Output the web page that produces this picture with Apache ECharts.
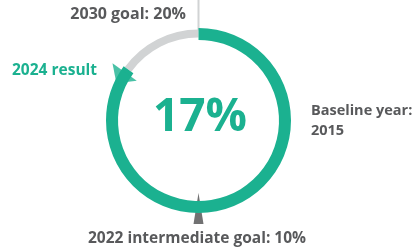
<!DOCTYPE html>
<html>
<head>
<meta charset="utf-8">
<script src="https://cdn.jsdelivr.net/npm/echarts@6/dist/echarts.min.js"></script>
<style>
    html, body { margin: 0; padding: 0; background: #fff; }
    #chart { width: 417px; height: 251px; }
</style>
</head>
<body>
<div id="chart"></div>
<script>
// 数据
const goalMax = 20;           // 2030 goal
const resultValue = 17;       // 2024 result
const midGoalValue = 10;      // 2022 intermediate goal
const baselineYear = 2015;
const labels = ['2030 goal: 20%', '2024 result', '2022 intermediate goal: 10%', 'Baseline year:'];
const centerText = resultValue + '%';

const green = '#1bb190';
const grey = '#d1d3d4';
const darkText = '#58595b';
const fontFamily = '"Open Sans", Lato, sans-serif';

const dom = document.getElementById('chart');
const myChart = echarts.init(dom);
const center = [198.5, 120.5];

const option = {
    backgroundColor: '#fff',
    animation: false,
    polar: {
        center: center,
        radius: 130
    },
    angleAxis: {
        type: 'value',
        min: 0,
        max: goalMax,
        startAngle: 90,
        clockwise: true,
        show: false
    },
    radiusAxis: {
        type: 'value',
        min: 0,
        max: 130,
        show: false
    },
    series: [
        {
            // 灰色剩余部分
            type: 'pie',
            silent: true,
            center: center,
            radius: [83, 91],
            startAngle: 90,
            clockwise: true,
            label: { show: false },
            labelLine: { show: false },
            z: 2,
            data: [
                { value: resultValue, itemStyle: { color: 'rgba(0,0,0,0)' } },
                { value: goalMax - resultValue, itemStyle: { color: grey } }
            ]
        },
        {
            // 绿色进度
            type: 'pie',
            silent: true,
            center: center,
            radius: [80.5, 92.5],
            startAngle: 90,
            clockwise: true,
            label: { show: false },
            labelLine: { show: false },
            z: 3,
            data: [
                { value: resultValue, itemStyle: { color: green } },
                { value: goalMax - resultValue, itemStyle: { color: 'rgba(0,0,0,0)' } }
            ]
        },
        {
            // 2030 目标竖线
            type: 'line',
            coordinateSystem: 'polar',
            silent: true,
            symbol: 'none',
            clip: false,
            lineStyle: { color: grey, width: 2 },
            z: 2,
            data: [[90, goalMax], [125, goalMax]]
        },
        {
            // 2022 中期目标指针
            type: 'scatter',
            coordinateSystem: 'polar',
            silent: true,
            symbol: 'triangle',
            symbolSize: [10, 31],
            itemStyle: { color: '#4d4d4f' },
            z: 1,
            data: [[88, midGoalValue]]
        },
        {
            // 2024 结果箭头
            type: 'scatter',
            coordinateSystem: 'polar',
            silent: true,
            symbol: 'triangle',
            symbolSize: [30, 14],
            symbolRotate: 144,
            itemStyle: { color: green },
            z: 4,
            data: [[89, resultValue - 0.4]]
        }
    ],
    graphic: [
        {
            type: 'text', x: 200, y: 118,
            style: { text: centerText, fill: green, font: 'bold 46px ' + fontFamily, textAlign: 'center', textVerticalAlign: 'middle' }
        },
        {
            type: 'text', x: 186, y: 14,
            style: { text: labels[0], fill: darkText, font: 'bold 16px ' + fontFamily, textAlign: 'right', textVerticalAlign: 'middle' }
        },
        {
            type: 'text', x: 12, y: 70.5,
            style: { text: labels[1], fill: green, font: 'bold 15.5px ' + fontFamily, textAlign: 'left', textVerticalAlign: 'middle' }
        },
        {
            type: 'text', x: 197, y: 239,
            style: { text: labels[2], fill: darkText, font: 'bold 15.5px ' + fontFamily, textAlign: 'center', textVerticalAlign: 'middle' }
        },
        {
            type: 'text', x: 311, y: 101.5,
            style: { text: labels[3] + '\n' + baselineYear, fill: darkText, font: 'bold 14.5px ' + fontFamily, lineHeight: 19.5, textAlign: 'left', textVerticalAlign: 'top' }
        }
    ]
};

myChart.setOption(option);
</script>
</body>
</html>
